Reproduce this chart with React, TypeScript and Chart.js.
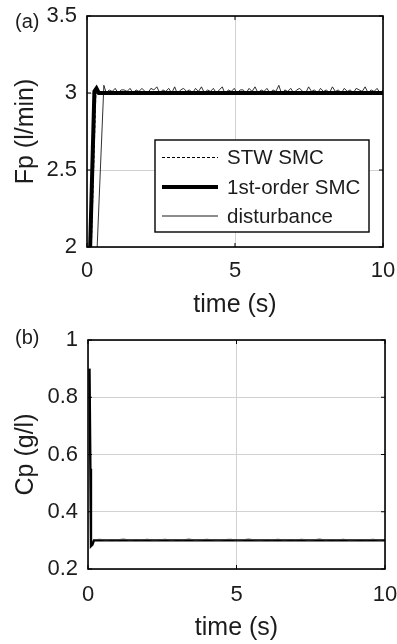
import React, { useEffect, useRef } from "react";
import { Chart, registerables } from "chart.js";
Chart.register(...registerables);

// ---------- data ----------
const xTicks = [0, 5, 10];
const fpTicks = [2, 2.5, 3, 3.5];
const cpTicks = [0.2, 0.4, 0.6, 0.8, 1];

// (a) Fp
const fpFirstOrderT = [0.05, 0.25, 0.32, 0.4, 10];
const fpFirstOrderY = [1.6, 3.01, 3.03, 3.0, 3.0];
const fpStwT = [0.1, 0.3, 0.5, 10];
const fpStwY = [1.7, 3.0, 3.0, 3.0];
const fpDistRiseT = [0.3, 0.57];
const fpDistRiseY = [1.8, 3.05];
const fpDistNoiseStart = 0.65;
const fpDistNoise = [
  3.0, 3.02, 3.01, 3.03, 3.0, 3.02, 3.02, 3.01, 3.03, 3.0, 3.02, 3.01, 3.03, 3.01, 3.0, 3.03,
  3.02, 3.04, 3.0, 3.02, 3.01, 3.03, 3.0, 3.04, 2.99, 3.02, 3.03, 3.01, 3.02, 3.0, 3.03, 3.01,
  3.04, 3.0, 3.02, 3.01, 3.03, 3.0, 3.02, 3.04, 2.99, 3.02, 3.01, 3.03, 3.0, 3.02, 3.02, 3.0,
  3.03, 3.01, 3.04, 3.0, 3.02, 3.01, 3.03, 3.0, 3.02, 3.01, 3.05, 2.99, 3.02, 3.01, 3.03, 3.0,
  3.02, 3.03, 3.01, 3.0, 3.04, 3.01, 3.02, 3.0, 3.03, 3.01, 3.02, 3.0, 3.04, 3.01, 3.02, 3.0,
  3.03, 3.01, 3.02, 3.0, 3.03, 3.02, 3.01, 3.04, 3.0, 3.02, 3.01, 3.03, 3.0, 3.02,
];

// (b) Cp
const cpSmcT = [0.05, 0.08, 0.1, 0.15, 0.2, 10];
const cpSmcY = [0.9, 0.55, 0.28, 0.285, 0.3, 0.3];
const cpNoiseStart = 0.2;
const cpNoise = [
  0.302, 0.304, 0.301, 0.303, 0.302, 0.305, 0.301, 0.303, 0.302, 0.304, 0.301, 0.302, 0.304,
  0.301, 0.303, 0.302, 0.305, 0.301, 0.302, 0.304, 0.302, 0.301, 0.303, 0.304, 0.301, 0.302,
  0.305, 0.302, 0.301, 0.303, 0.302, 0.304, 0.301, 0.303, 0.302, 0.304, 0.301, 0.302, 0.305,
  0.301, 0.303, 0.302, 0.304, 0.301, 0.302, 0.303, 0.302, 0.304, 0.301, 0.303,
];

const legendLabels = ["STW SMC", "1st-order SMC", "disturbance"];

// ---------- helpers ----------
const FONT = "'Liberation Sans', Arial, sans-serif";
const TXT = "#1c1c1c";

function pts(t: number[], y: number[]) {
  return t.map((v, i) => ({ x: v, y: y[i] }));
}
function noisePts(start: number, end: number, vals: number[]) {
  const dt = (end - start) / (vals.length - 1);
  return vals.map((v, i) => ({ x: start + i * dt, y: v }));
}

function framePlugin(label: string, labelY: number, withLegend: boolean) {
  return {
    id: "frame" + label,
    afterDraw(chart: any) {
      const { ctx, chartArea: a, scales } = chart;
      ctx.save();
      // inner ticks
      ctx.strokeStyle = "#000";
      ctx.lineWidth = 1;
      scales.x.ticks.forEach((t: any) => {
        const px = scales.x.getPixelForValue(t.value);
        ctx.beginPath();
        ctx.moveTo(px, a.bottom);
        ctx.lineTo(px, a.bottom - 4);
        ctx.moveTo(px, a.top);
        ctx.lineTo(px, a.top + 4);
        ctx.stroke();
      });
      scales.y.ticks.forEach((t: any) => {
        const py = scales.y.getPixelForValue(t.value);
        ctx.beginPath();
        ctx.moveTo(a.left, py);
        ctx.lineTo(a.left + 4, py);
        ctx.moveTo(a.right, py);
        ctx.lineTo(a.right - 4, py);
        ctx.stroke();
      });
      // border
      ctx.lineWidth = 1.6;
      ctx.strokeRect(a.left, a.top, a.right - a.left, a.bottom - a.top);
      // panel label
      ctx.fillStyle = TXT;
      ctx.font = `20px ${FONT}`;
      ctx.textBaseline = "middle";
      ctx.textAlign = "left";
      ctx.fillText(label, 15, labelY);
      // legend
      if (withLegend) {
        const bx = a.left + 68;
        const by = a.top + 124;
        const bw = 214;
        const bh = 92;
        ctx.fillStyle = "#fff";
        ctx.fillRect(bx, by, bw, bh);
        ctx.lineWidth = 1.4;
        ctx.strokeStyle = "#000";
        ctx.strokeRect(bx, by, bw, bh);
        const ds = chart.data.datasets;
        const rows = [by + 17.5, by + 47, by + 76];
        ds.forEach((d: any, i: number) => {
          ctx.beginPath();
          ctx.lineWidth = d.borderWidth;
          ctx.setLineDash(d.borderDash || []);
          ctx.moveTo(bx + 7, rows[i]);
          ctx.lineTo(bx + 63, rows[i]);
          ctx.stroke();
          ctx.setLineDash([]);
          ctx.fillStyle = TXT;
          ctx.font = `20.5px ${FONT}`;
          ctx.fillText(d.label, bx + 72, rows[i] + 1);
        });
      }
      ctx.restore();
    },
  };
}

function makeOptions(c: {
  yMin: number;
  yMax: number;
  yTicks: number[];
  yTitle: string;
  padTop: number;
  padRight: number;
  yWidth: number;
  xHeight: number;
  xTickPad: number;
  xTitlePad: number;
}) {
  const tickFont = { family: FONT, size: 22 };
  const titleFont = { family: FONT, size: 25 };
  return {
    responsive: false,
    animation: false as const,
    events: [],
    layout: { padding: { top: c.padTop, right: c.padRight, left: 0, bottom: 0 } },
    plugins: { legend: { display: false }, tooltip: { enabled: false } },
    elements: { point: { radius: 0 }, line: { tension: 0 } },
    scales: {
      x: {
        type: "linear" as const,
        min: 0,
        max: 10,
        afterBuildTicks: (s: any) => {
          s.ticks = xTicks.map((v) => ({ value: v }));
        },
        afterFit: (s: any) => {
          s.height = c.xHeight;
          s.paddingLeft = 0;
          s.paddingRight = 0;
        },
        grid: { color: "#d2d2d2", lineWidth: 1, drawTicks: false },
        border: { display: false },
        ticks: { font: tickFont, color: TXT, padding: c.xTickPad, maxRotation: 0 },
        title: {
          display: true,
          text: "time (s)",
          font: titleFont,
          color: TXT,
          padding: { top: 0, bottom: c.xTitlePad },
        },
      },
      y: {
        type: "linear" as const,
        min: c.yMin,
        max: c.yMax,
        afterBuildTicks: (s: any) => {
          s.ticks = c.yTicks.map((v) => ({ value: v }));
        },
        afterFit: (s: any) => {
          s.width = c.yWidth;
          s.paddingTop = 0;
          s.paddingBottom = 0;
        },
        grid: { color: "#d2d2d2", lineWidth: 1, drawTicks: false },
        border: { display: false },
        ticks: {
          font: tickFont,
          color: TXT,
          padding: 10,
          callback: (v: any) => String(v),
        },
        title: {
          display: true,
          text: c.yTitle,
          font: titleFont,
          color: TXT,
          padding: { top: 11, bottom: 0 },
        },
      },
    },
  };
}

export default function App() {
  const refA = useRef<HTMLCanvasElement>(null);
  const refB = useRef<HTMLCanvasElement>(null);

  useEffect(() => {
    const disturbance = [
      ...pts(fpDistRiseT, fpDistRiseY),
      ...noisePts(fpDistNoiseStart, 10, fpDistNoise),
    ];
    const chartA = new Chart(refA.current!, {
      type: "line",
      data: {
        datasets: [
          {
            label: legendLabels[0],
            data: pts(fpStwT, fpStwY),
            borderColor: "#000",
            borderWidth: 1,
            borderDash: [3, 2],
            pointRadius: 0,
          },
          {
            label: legendLabels[1],
            data: pts(fpFirstOrderT, fpFirstOrderY),
            borderColor: "#000",
            borderWidth: 4,
            pointRadius: 0,
          },
          {
            label: legendLabels[2],
            data: disturbance,
            borderColor: "#1a1a1a",
            borderWidth: 0.9,
            pointRadius: 0,
          },
        ],
      },
      options: makeOptions({
        yMin: 2,
        yMax: 3.5,
        yTicks: fpTicks,
        yTitle: "Fp (l/min)",
        padTop: 16,
        padRight: 14,
        yWidth: 87,
        xHeight: 73,
        xTickPad: 11,
        xTitlePad: 0,
      }) as any,
      plugins: [framePlugin("(a)", 22, true)],
    });

    const chartB = new Chart(refB.current!, {
      type: "line",
      data: {
        datasets: [
          {
            label: "noise",
            data: noisePts(cpNoiseStart, 10, cpNoise),
            borderColor: "#444",
            borderWidth: 0.8,
            pointRadius: 0,
          },
          {
            label: "Cp",
            data: pts(cpSmcT, cpSmcY),
            borderColor: "#000",
            borderWidth: 2.4,
            pointRadius: 0,
          },
        ],
      },
      options: makeOptions({
        yMin: 0.2,
        yMax: 1,
        yTicks: cpTicks,
        yTitle: "Cp (g/l)",
        padTop: 20,
        padRight: 12,
        yWidth: 88,
        xHeight: 75,
        xTickPad: 13,
        xTitlePad: 1,
      }) as any,
      plugins: [framePlugin("(b)", 18, false)],
    });

    return () => {
      chartA.destroy();
      chartB.destroy();
    };
  }, []);

  return (
    <div
      style={{
        position: "fixed",
        left: 0,
        top: 0,
        width: 397,
        height: 644,
        background: "#fff",
      }}
    >
      <canvas
        ref={refA}
        width={397}
        height={320}
        style={{ position: "absolute", left: 0, top: 0, width: 397, height: 320 }}
      />
      <canvas
        ref={refB}
        width={397}
        height={324}
        style={{ position: "absolute", left: 0, top: 320, width: 397, height: 324 }}
      />
    </div>
  );
}
